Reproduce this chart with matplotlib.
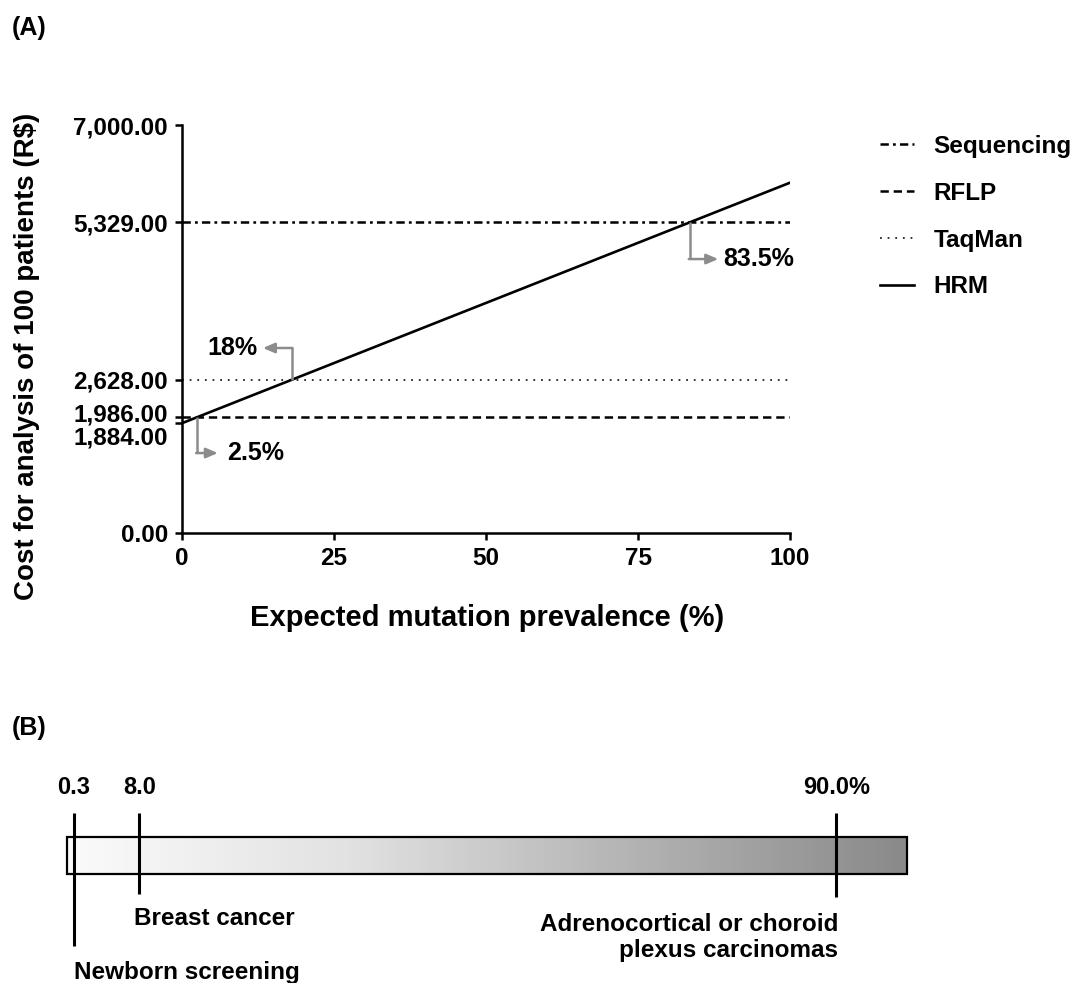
import numpy as np
import matplotlib
matplotlib.use("Agg")
import matplotlib.pyplot as plt
import matplotlib.transforms as mtransforms
from matplotlib.patches import Rectangle

plt.rcParams["font.family"] = ["Liberation Sans", "DejaVu Sans"]
plt.rcParams["font.weight"] = "bold"
plt.rcParams["axes.labelweight"] = "bold"
plt.rcParams["lines.scale_dashes"] = False

# ---- data: panel A (cost for analysis of 100 patients, R$) ----
prevalence = [0, 100]
methods = ["Sequencing", "RFLP", "TaqMan", "HRM"]
sequencing_cost = 5329.0
rflp_cost = 1986.0
taqman_cost = 2628.0
hrm_cost = [1884.0, 6010.0]
y_ticks = [0, 1884, 1986, 2628, 5329, 7000]
x_ticks = [0, 25, 50, 75, 100]

# ---- data: panel B (prevalence scale) ----
scale_values = [0.3, 8.0, 90.0]
scale_value_labels = ["0.3", "8.0", "90.0%"]
scale_names = ["Newborn screening", "Breast cancer",
               "Adrenocortical or choroid\nplexus carcinomas"]

GRAY = "#8c8c8c"

fig = plt.figure(figsize=(10.78, 9.83), dpi=100)

# ---------------- panel A ----------------
ax = fig.add_axes([182 / 1078, 1 - 533 / 983, 608 / 1078, 408 / 983])

ax.plot(prevalence, [sequencing_cost] * 2, color="black", lw=1.8,
        dashes=(6, 3, 2, 3), label=methods[0])
ax.plot(prevalence, [rflp_cost] * 2, color="black", lw=1.8,
        dashes=(6, 3.5), label=methods[1])
ax.plot(prevalence, [taqman_cost] * 2, color="#333333", lw=1.4,
        dashes=(1.3, 4.2), label=methods[2])
ax.plot(prevalence, hrm_cost, color="black", lw=1.9, label=methods[3])

ax.set_xlim(0, 100)
ax.set_ylim(0, 7000)
ax.set_xticks(x_ticks)
ax.set_yticks(y_ticks)
ax.set_yticklabels([f"{v:,.2f}" for v in y_ticks])
for s in ["top", "right"]:
    ax.spines[s].set_visible(False)
for s in ["left", "bottom"]:
    ax.spines[s].set_linewidth(1.8)
ax.tick_params(axis="both", direction="out", length=5, width=1.8,
               labelsize=17.5, pad=5)

# separate the two crowded labels a bit
fig.canvas.draw()
ylabels = ax.get_yticklabels()
for lab, dy in [(ylabels[2], 3.6), (ylabels[1], -8.6)]:
    lab.set_transform(lab.get_transform() + mtransforms.ScaledTranslation(
        0, dy / 72, fig.dpi_scale_trans))

ax.set_xlabel("Expected mutation prevalence (%)", fontsize=21)
ax.set_ylabel("Cost for analysis of 100 patients (R$)", fontsize=20)
ax.xaxis.set_label_coords(0.502, -0.208)
ax.xaxis.label.set_va("center")
ax.yaxis.set_label_coords(-0.255, 0.434)
ax.yaxis.label.set_va("center")

# break-even points between HRM and the other methods
slope = (hrm_cost[1] - hrm_cost[0]) / (prevalence[1] - prevalence[0])


def crossing(level):
    return (level - hrm_cost[0]) / slope


def elbow(level, y_turn, x_tip, text, x_text, ha):
    xc = crossing(level)
    ax.plot([xc, xc], [level, y_turn], color=GRAY, lw=1.8,
            solid_capstyle="butt")
    start = xc - 0.15 if x_tip > xc else xc + 0.15
    ax.annotate("", xy=(x_tip, y_turn), xytext=(start, y_turn),
                arrowprops=dict(arrowstyle="-|>,head_length=0.7,head_width=0.3",
                                color=GRAY, lw=1.8, shrinkA=0, shrinkB=0))
    ax.text(x_text, y_turn, text, ha=ha, va="center", fontsize=18)


elbow(rflp_cost, 1372, 5.9, f"{crossing(rflp_cost):.1f}%", 7.4, "left")
elbow(taqman_cost, 3174, 13.3, f"{crossing(taqman_cost):.0f}%", 12.4, "right")
elbow(sequencing_cost, 4700, 88.2, f"{crossing(sequencing_cost):.1f}%", 89.1, "left")

fig.legend(loc="upper left", bbox_to_anchor=(880 / 1078, 1 - 135 / 983),
           frameon=False, fontsize=17.5, handlelength=1.4, handletextpad=0.8,
           borderpad=0, borderaxespad=0, labelspacing=0.98)

fig.text(12 / 1078, 1 - 28 / 983, "(A)", fontsize=18, va="center")
fig.text(12 / 1078, 1 - 728 / 983, "(B)", fontsize=18, va="center")

# ---------------- panel B ----------------
bar_lo, bar_hi = -0.5, 98.3
axb = fig.add_axes([67 / 1078, 1 - 874 / 983, 840 / 1078, 37 / 983])
axb.set_xlim(bar_lo, bar_hi)
axb.set_ylim(0, 1)
axb.axis("off")
grad = np.linspace(0, 1, 256).reshape(1, -1)
axb.imshow(grad, cmap=matplotlib.colors.LinearSegmentedColormap.from_list(
    "g", ["#fbfbfb", "#e2e2e2", "#b4b4b4", "#8a8a8a"]),
    extent=(bar_lo, bar_hi, 0, 1), aspect="auto")
axb.add_patch(Rectangle((bar_lo, 0), bar_hi - bar_lo, 1, fill=False,
                        ec="black", lw=1.6, clip_on=False))

bottoms = [-1.95, -0.55, -0.62]
for v, vlab, yb in zip(scale_values, scale_value_labels, bottoms):
    axb.plot([v, v], [1.65, yb], color="black", lw=2.2, clip_on=False,
             solid_capstyle="butt")
    axb.text(v, 2.33, vlab, ha="center", va="center", fontsize=17)

axb.text(scale_values[0], -2.65, scale_names[0], ha="left", va="center",
         fontsize=17.5)
axb.text(scale_values[1] - 0.6, -1.2, scale_names[1], ha="left", va="center",
         fontsize=17.5)
axb.text(scale_values[2] + 0.2, -1.72, scale_names[2], ha="right", va="center",
         ma="right", fontsize=17.5, linespacing=1.15)

fig.savefig("out.png", dpi=100)
